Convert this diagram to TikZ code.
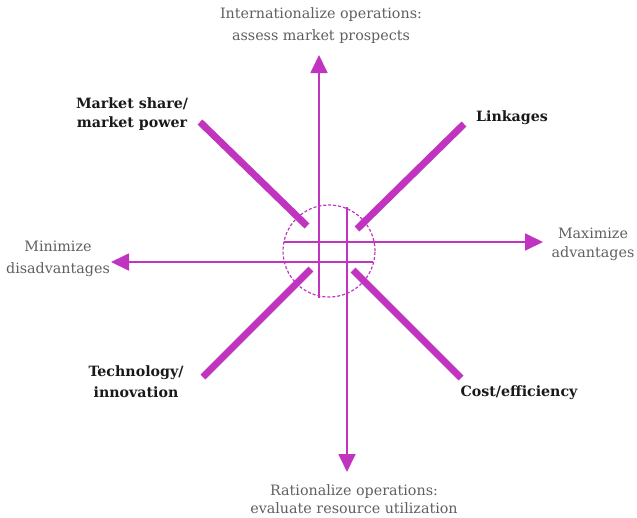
\documentclass[tikz,border=0pt]{standalone}
\usepackage{fontspec}
\setmainfont{DejaVu Serif}
\usetikzlibrary{arrows.meta}
\definecolor{mag}{RGB}{192,52,192}
\definecolor{graytxt}{RGB}{95,95,95}
\definecolor{darktxt}{RGB}{25,25,25}
\tikzset{
  thinarrow/.style={draw=mag, line width=1.8pt, -{Triangle[length=18pt,width=17pt]}},
  thickbar/.style={draw=mag, line width=7pt},
  soft/.style={font=\fontsize{14.3}{22}\selectfont, text=graytxt, align=center, inner sep=0pt},
  boldlab/.style={font=\fontsize{14.2}{20}\selectfont\bfseries, text=darktxt, align=center, inner sep=0pt},
}
\begin{document}
\begin{tikzpicture}[x=1pt,y=-1pt]
\useasboundingbox (0,0) rectangle (637,517);
% centre circle
\node[draw=mag, line width=1.2pt, dash pattern=on 3pt off 2pt, circle, minimum size=92pt, inner sep=0pt] (hub) at (329,251) {};
% arrow ends
\coordinate (upS) at (319,298);
\coordinate (upE) at (319,55);
\coordinate (dnS) at (347,207);
\coordinate (dnE) at (347,472);
\coordinate (rtS) at (284,242);
\coordinate (rtE) at (543,242);
\coordinate (ltS) at (373,262);
\coordinate (ltE) at (111,262);
\draw[thinarrow] (upS) -- (upE);
\draw[thinarrow] (dnS) -- (dnE);
\draw[thinarrow] (rtS) -- (rtE);
\draw[thinarrow] (ltS) -- (ltE);
% diagonal bars
\coordinate (tlA) at (200,122);
\coordinate (tlB) at (307,226);
\coordinate (trA) at (464,124);
\coordinate (trB) at (357,229);
\coordinate (blA) at (311,269);
\coordinate (blB) at (203,377);
\coordinate (brA) at (353,270);
\coordinate (brB) at (461,378);
\draw[thickbar] (tlA) -- (tlB);
\draw[thickbar] (trA) -- (trB);
\draw[thickbar] (blA) -- (blB);
\draw[thickbar] (brA) -- (brB);
% labels
\node[soft] (top) at (321,26) {Internationalize operations:\\assess market prospects};
\node[soft, font=\fontsize{14.3}{18.5}\selectfont] (bot) at (354,499) {Rationalize operations:\\evaluate resource utilization};
\node[soft, font=\fontsize{14.3}{19}\selectfont] (max) at (593,244) {Maximize\\advantages};
\node[soft, font=\fontsize{14.3}{22}\selectfont] (min) at (58,259) {Minimize\\disadvantages};
\node[boldlab, font=\fontsize{14.2}{19}\selectfont\bfseries] (mkt) at (132,114) {Market share/\\market power};
\node[boldlab] (lnk) at (512,118) {Linkages};
\node[boldlab, font=\fontsize{14.2}{21}\selectfont\bfseries] (tech) at (136,382) {Technology/\\innovation};
\node[boldlab] (cost) at (519,393) {Cost/efficiency};
\end{tikzpicture}
\end{document}
